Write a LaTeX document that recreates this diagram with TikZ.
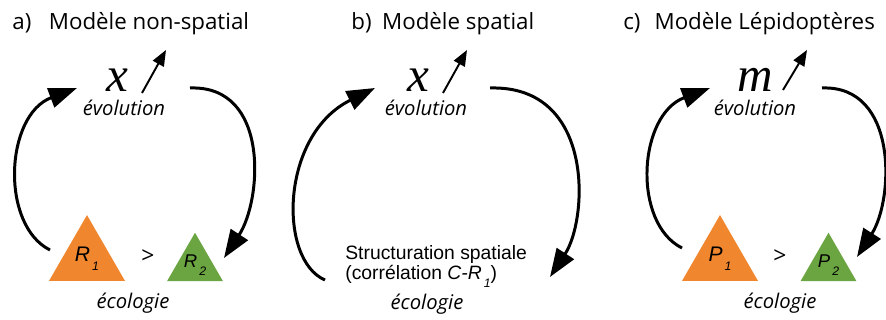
\documentclass[tikz,border=0pt]{standalone}
\usepackage{fontspec}
\setmainfont{Open Sans}
\newfontfamily\arialfont{Liberation Sans}
\newfontfamily\timesfont{Liberation Serif}
\usetikzlibrary{positioning,arrows.meta,shapes.geometric}
\definecolor{orangeR}{RGB}{240,134,46}
\definecolor{vertR}{RGB}{106,165,66}
\newcommand{\ind}[1]{\kern1.2pt\raisebox{-0.8ex}{\scriptsize #1}}
\tikzset{
  titre/.style        = {anchor=base west, inner sep=0pt, font=\fontsize{12.7}{15}\selectfont},
  trait/.style        = {anchor=base, inner sep=0pt, font=\timesfont\itshape\fontsize{28}{30}\selectfont},
  etiquette/.style    = {anchor=base, inner sep=0pt, font=\itshape\fontsize{11.5}{13}\selectfont},
  structure/.style    = {anchor=north west, inner sep=0pt, align=left, font=\arialfont\fontsize{11}{10}\selectfont},
  comparaison/.style  = {inner sep=0pt, font=\fontsize{13}{15}\selectfont},
  tri/.style          = {regular polygon, regular polygon sides=3, inner sep=0pt},
  grandtri/.style     = {tri, fill=orangeR, minimum size=1.756cm, font=\arialfont\itshape\fontsize{12}{14}\selectfont},
  petittri/.style     = {tri, fill=vertR, minimum size=1.29cm, font=\arialfont\itshape\fontsize{10.5}{12}\selectfont},
  fleche/.style       = {-{Triangle[length=16pt, width=11.5pt]}, line width=1.7pt},
  petitefleche/.style = {-{Triangle[length=9pt, width=7pt]}, line width=1.1pt}
}

\begin{document}
\begin{tikzpicture}[x=0.02cm, y=-0.02cm]
    \path[use as bounding box, fill=white] (0,0) rectangle (886,320);

    \node[titre] (ta) at (12,30) {a)\hspace{10pt}Modèle non-spatial};
    \node[trait] (xa) at (117,92) {x};
    \node[etiquette] (eva) at (124,116) {évolution};
    \node[grandtri] (r1) at (87,259) {R\ind{1}};
    \node[comparaison] (gta) at (148,257) {>};
    \node[petittri] (r2) at (195,265) {R\ind{2}};
    \node[etiquette] (eca) at (133,309) {écologie};
    \coordinate (pa) at (142,93);
    \coordinate (a1) at (50,250);
    \coordinate (a2) at (77,88);
    \coordinate (a3) at (190,88);
    \coordinate (a4) at (224,258);
    \draw[petitefleche] (pa) -- ++(24,-43);
    \draw[fleche] (a1) .. controls (0,225) and (5,115) .. (a2);
    \draw[fleche] (a3) .. controls (270,85) and (262,200) .. (a4);

    \node[titre] (tb) at (351,30) {b)\hspace{6pt}Modèle spatial};
    \node[trait] (xb) at (418,92) {x};
    \node[etiquette] (evb) at (426,116) {évolution};
    \node[structure] (sb) at (345,245) {Structuration spatiale\\(corrélation \textit{C-R}\ind{\textit{1}})};
    \node[etiquette] (ecb) at (427,310) {écologie};
    \coordinate (pb) at (443,93);
    \coordinate (b1) at (325,280);
    \coordinate (b2) at (375,88);
    \coordinate (b3) at (490,88);
    \coordinate (b4) at (550,277);
    \draw[petitefleche] (pb) -- ++(24,-43);
    \draw[fleche] (b1) .. controls (278,260) and (280,135) .. (b2);
    \draw[fleche] (b3) .. controls (595,85) and (588,219) .. (b4);

    \node[titre] (tc) at (623,30) {c)\hspace{8pt}Modèle Lépidoptères};
    \node[trait] (mc) at (755,92) {m};
    \node[etiquette] (evc) at (755,116) {évolution};
    \node[grandtri] (p1) at (720,259) {P\ind{1}};
    \node[comparaison] (gtc) at (780,257) {>};
    \node[petittri] (p2) at (828.5,265) {P\ind{2}};
    \node[etiquette] (ecc) at (780,309) {écologie};
    \coordinate (pc) at (783,90);
    \coordinate (c1) at (682,248);
    \coordinate (c2) at (710,88);
    \coordinate (c3) at (822,88);
    \coordinate (c4) at (857,257);
    \draw[petitefleche] (pc) -- ++(24,-40);
    \draw[fleche] (c1) .. controls (632,223) and (638,115) .. (c2);
    \draw[fleche] (c3) .. controls (898,85) and (894,199) .. (c4);
\end{tikzpicture}
\end{document}
